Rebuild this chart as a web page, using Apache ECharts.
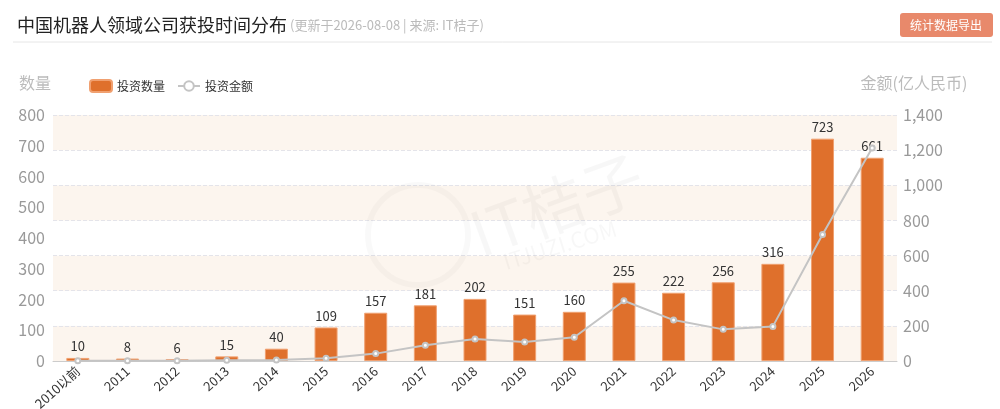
<!DOCTYPE html>
<html><head><meta charset="utf-8">
<script src="https://cdn.jsdelivr.net/npm/echarts@6/dist/echarts.min.js"></script>
<style>html,body{margin:0;padding:0;background:#fff;}#c{width:1000px;height:409px;}</style>
</head><body><div id="c"></div>
<script>
const categories = ['2010以前','2011','2012','2013','2014','2015','2016','2017','2018','2019','2020','2021','2022','2023','2024','2025','2026'];
const investCount = [10,8,6,15,40,109,157,181,202,151,160,255,222,256,316,723,661];
const investAmount = [1,1,1,4,5,15,42,89,125,108,135,343,233,180,197,720,1212];
const leftTicks = [0,800,100];
const rightTicks = [0,1400,200];

const chart = echarts.init(document.getElementById('c'));
const FONT = '"Microsoft YaHei","Noto Sans CJK SC",sans-serif';
chart.setOption({
  textStyle:{fontFamily:FONT},
  animation:false,
  title:{
    text:'中国机器人领域公司获投时间分布',
    left:12, top:11,
    textStyle:{fontSize:18,fontWeight:'normal',color:'#222',fontFamily:FONT}
  },
  graphic:[
    {type:'text',x:290,y:25,style:{text:'(更新于2026-08-08 | 来源: IT桔子)',fill:'#bbb',fontSize:13,verticalAlign:'middle',fontFamily:FONT}},
    {type:'line',shape:{x1:13,y1:42,x2:992,y2:42},style:{stroke:'#e6e6e6',lineWidth:1}},
    {type:'rect',shape:{x:900,y:13,width:93,height:24,r:3},style:{fill:'#e8896b'}},
    {type:'text',x:946,y:25,style:{text:'统计数据导出',fill:'#fff',fontSize:12,align:'center',verticalAlign:'middle',fontFamily:FONT}},
    {type:'circle',shape:{cx:418,cy:235,r:50},style:{fill:'none',stroke:'#000',lineWidth:6,opacity:0.025},z:1},
    {type:'text',x:557,y:205,rotation:0.35,style:{text:'IT桔子',fill:'#000',opacity:0.03,fontSize:62,align:'center',verticalAlign:'middle',fontFamily:FONT},z:1},
    {type:'text',x:560,y:245,rotation:0.3,style:{text:'ITJUZI.COM',fill:'#000',opacity:0.03,fontSize:22,align:'center',verticalAlign:'middle',fontFamily:FONT},z:1}
  ],
  legend:{
    left:84, top:74, itemWidth:22, itemHeight:12, itemGap:12,
    textStyle:{fontSize:12,color:'#333'},
    data:[{name:'投资数量',icon:'roundRect'},{name:'投资金额'}]
  },
  grid:{left:53,right:103,top:115,bottom:48,outerBoundsMode:'none',containLabel:false},
  xAxis:{
    type:'category', data:categories,
    axisLine:{lineStyle:{color:'#ccc'}},
    axisTick:{lineStyle:{color:'#ccc'}},
    axisLabel:{rotate:42,fontSize:13,color:'#333',margin:8,interval:0}
  },
  yAxis:[
    {type:'value',min:leftTicks[0],max:leftTicks[1],interval:leftTicks[2],
     name:'数量',nameLocation:'end',nameGap:24,
     nameTextStyle:{fontSize:16,color:'#bbb',align:'center',padding:[0,36,0,0]},
     axisLine:{show:false},axisTick:{show:false},
     axisLabel:{fontSize:16,color:'#999',margin:8},
     splitLine:{show:false}},
    {type:'value',min:rightTicks[0],max:rightTicks[1],interval:rightTicks[2],
     name:'金额(亿人民币)',nameLocation:'end',nameGap:24,
     nameTextStyle:{fontSize:16,color:'#bbb',align:'center',padding:[0,0,0,34]},
     axisLine:{show:false},axisTick:{show:false},
     axisLabel:{fontSize:16,color:'#999',margin:6},
     splitLine:{show:true,lineStyle:{color:'#e4e4ea',type:'dashed'}},
     splitArea:{show:true,areaStyle:{color:['#fcf5ee','#ffffff']}}}
  ],
  series:[
    {name:'投资数量',type:'bar',data:investCount,yAxisIndex:0,barWidth:23,
     itemStyle:{color:'#df702c',borderColor:'#f0a070',borderWidth:1},
     label:{show:true,position:'top',fontSize:13,color:'#333',distance:5},z:2},
    {name:'投资金额',type:'line',data:investAmount,yAxisIndex:1,
     symbol:'emptyCircle',symbolSize:5,
     lineStyle:{color:'#c4c4c4',width:2},
     itemStyle:{color:'#c4c4c4',borderWidth:2},z:3}
  ]
});
</script></body></html>
